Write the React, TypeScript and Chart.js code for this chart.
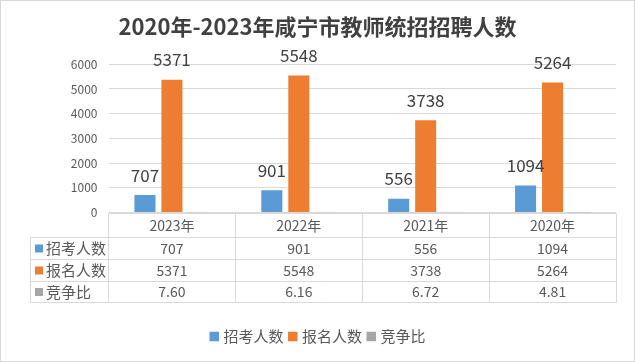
import React, { useEffect, useRef } from "react";
import { Chart, registerables } from "chart.js";

Chart.register(...registerables);

const titleText = "2020年-2023年咸宁市教师统招招聘人数";
const categories = ["2023年", "2022年", "2021年", "2020年"];
const seriesNames = ["招考人数", "报名人数", "竞争比"];
const recruits = [707, 901, 556, 1094];
const applicants = [5371, 5548, 3738, 5264];
const ratios = [7.6, 6.16, 6.72, 4.81];
const ratioLabels = ["7.60", "6.16", "6.72", "4.81"];
const colors = ["#5B9BD5", "#ED7D31", "#A5A5A5"];

const FONT = '"Noto Sans CJK SC", "Noto Sans", sans-serif';
const GRID = "#d9d9d9";
const TEXT = "#595959";

const tablePlugin = {
  id: "tablePlugin",
  beforeDraw(chart: any) {
    const { ctx, width, height } = chart;
    ctx.save();
    ctx.fillStyle = "#ffffff";
    ctx.fillRect(0, 0, width, height);
    ctx.restore();
  },
  afterDraw(chart: any) {
    const { ctx, width, height, chartArea } = chart;
    const xs = chart.scales.x;
    ctx.save();

    // title
    ctx.fillStyle = "#404040";
    ctx.font = `bold 22px ${FONT}`;
    ctx.textAlign = "center";
    ctx.textBaseline = "alphabetic";
    ctx.fillText(titleText, width / 2, 35);

    // data labels for first two series
    ctx.font = `17px ${FONT}`;
    ctx.fillStyle = "#404040";
    [0, 1].forEach((di) => {
      const meta = chart.getDatasetMeta(di);
      const vals = chart.data.datasets[di].data;
      meta.data.forEach((bar: any, i: number) => {
        ctx.fillText(String(vals[i]), bar.x, bar.y - 13.5);
      });
    });

    // table grid
    const catW = xs.getPixelForValue(1) - xs.getPixelForValue(0);
    const left0 = 30.5;
    const axisY = Math.round(chartArea.bottom) + 0.5;
    const rowY = [axisY, 237.5, 259.5, 281.5, 302.5];
    const plotL = Math.floor(chartArea.left) + 0.5;
    const plotR = Math.floor(chartArea.right) + 0.5;
    ctx.strokeStyle = GRID;
    ctx.lineWidth = 1;
    ctx.beginPath();
    for (let r = 1; r < rowY.length; r++) {
      ctx.moveTo(left0, rowY[r]);
      ctx.lineTo(plotR, rowY[r]);
    }
    ctx.moveTo(left0, rowY[1]);
    ctx.lineTo(left0, rowY[4]);
    for (let i = 0; i <= categories.length; i++) {
      const x = Math.floor(xs.getPixelForValue(0) - catW / 2 + i * catW) + 0.5;
      ctx.moveTo(x, axisY);
      ctx.lineTo(x, rowY[4]);
    }
    ctx.moveTo(plotL, axisY);
    ctx.lineTo(plotR, axisY);
    ctx.stroke();

    // header years
    ctx.fillStyle = TEXT;
    ctx.font = `14px ${FONT}`;
    ctx.textAlign = "center";
    ctx.textBaseline = "middle";
    categories.forEach((c, i) => {
      ctx.fillText(c, xs.getPixelForValue(i), (rowY[0] + rowY[1]) / 2);
    });

    // rows
    const rows = [recruits.map(String), applicants.map(String), ratioLabels];
    rows.forEach((vals, r) => {
      const cy = (rowY[r + 1] + rowY[r + 2]) / 2;
      ctx.fillStyle = colors[r];
      ctx.fillRect(35, cy - 4, 8, 8);
      ctx.fillStyle = TEXT;
      ctx.font = `15px ${FONT}`;
      ctx.textAlign = "left";
      ctx.fillText(seriesNames[r], 46, cy);
      ctx.font = `14px ${FONT}`;
      ctx.textAlign = "center";
      vals.forEach((v, i) => {
        ctx.fillText(v, xs.getPixelForValue(i), cy);
      });
    });

    // legend
    ctx.font = `15px ${FONT}`;
    const box = 9.5;
    const gapBT = 4.5;
    const gapItem = 4.5;
    const widths = seriesNames.map((s) => box + gapBT + ctx.measureText(s).width);
    const total = widths.reduce((a, b) => a + b, 0) + gapItem * (widths.length - 1);
    let lx = width / 2 - total / 2;
    const ly = 336.5;
    ctx.textAlign = "left";
    seriesNames.forEach((s, i) => {
      ctx.fillStyle = colors[i];
      ctx.fillRect(lx, ly - box / 2, box, box);
      ctx.fillStyle = TEXT;
      ctx.fillText(s, lx + box + gapBT, ly);
      lx += widths[i] + gapItem;
    });

    // outer border
    ctx.strokeStyle = GRID;
    ctx.strokeRect(0.5, 0.5, width - 1, height - 1);
    ctx.restore();
  },
};

export default function App() {
  const ref = useRef<HTMLCanvasElement | null>(null);
  useEffect(() => {
    document.body.style.margin = "0";
    const canvas = ref.current!;
    const chart = new Chart(canvas, {
      type: "bar",
      data: {
        labels: categories,
        datasets: [
          { label: seriesNames[0], data: recruits, backgroundColor: colors[0] },
          { label: seriesNames[1], data: applicants, backgroundColor: colors[1] },
          { label: seriesNames[2], data: ratios, backgroundColor: colors[2] },
        ],
      },
      options: {
        responsive: false,
        animation: false,
        devicePixelRatio: 1,
        layout: { padding: { top: 64.3, right: 19, bottom: 149.5, left: 0 } },
        datasets: {
          bar: { categoryPercentage: 0.638, barPercentage: 0.78 },
        },
        plugins: {
          legend: { display: false },
          title: { display: false },
          tooltip: { enabled: false },
        },
        scales: {
          x: { display: false },
          y: {
            min: 0,
            max: 6000,
            ticks: {
              stepSize: 1000,
              padding: 11,
              color: TEXT,
              font: { size: 12, family: FONT },
              callback: (v: any) => String(v),
            },
            grid: { color: GRID, drawTicks: false },
            border: { display: false },
            afterFit: (axis: any) => {
              axis.width = 108.5;
            },
          },
        },
      } as any,
      plugins: [tablePlugin],
    });
    return () => chart.destroy();
  }, []);
  return (
    <div style={{ width: 635, height: 362 }}>
      <canvas ref={ref} width={635} height={362} style={{ display: "block" }} />
    </div>
  );
}
